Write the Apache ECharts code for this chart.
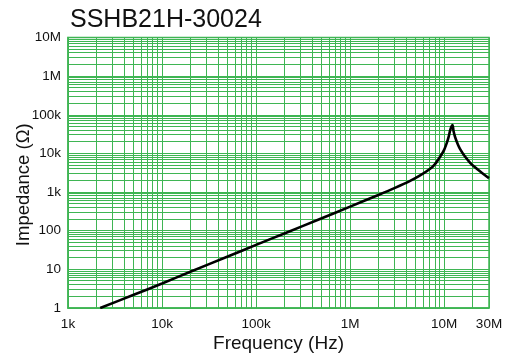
<!DOCTYPE html>
<html>
<head>
<meta charset="utf-8">
<script src="https://cdn.jsdelivr.net/npm/echarts@6/dist/echarts.min.js"></script>
<style>
  html, body { margin: 0; padding: 0; background: #fff; }
  #chart { width: 511px; height: 356px; }
</style>
</head>
<body>
<div id="chart"></div>
<script>
// Impedance vs frequency, SSHB21H-30024
const freqHz = [2.2e3, 5e3, 1e4, 2e4, 5e4, 1e5, 2e5, 5e5, 1e6, 2e6, 3e6, 4.35e6, 5.5e6,
  7.1e6, 8e6, 9.06e6, 1e7, 1.07e7, 1.12e7, 1.16e7, 1.2e7, 1.23e7, 1.26e7, 1.31e7, 1.4e7,
  1.48e7, 1.65e7, 1.89e7, 2.1e7, 2.42e7, 2.7e7, 3e7];
const impedanceOhm = [1, 2.2, 4.3, 8.7, 21.5, 43, 85, 210, 420, 840, 1280, 1940, 2650,
  4000, 5300, 8200, 12400, 19000, 27500, 40000, 50000, 54000, 37300, 26200, 17000,
  12900, 8540, 5730, 4500, 3390, 2770, 2300];

const xTickValues = [1e3, 1e4, 1e5, 1e6, 1e7, 3e7];
const xTickLabels = ['1k', '10k', '100k', '1M', '10M', '30M'];
const yTickValues = [1, 10, 100, 1e3, 1e4, 1e5, 1e6, 1e7];
const yTickLabels = ['1', '10', '100', '1k', '10k', '100k', '1M', '10M'];

const X_MIN = 1e3, X_MAX = 3e7, Y_MIN = 1, Y_MAX = 1e7;
const GRID = '#3fb553';
const FONT = '"Liberation Sans", Arial, Helvetica, sans-serif';

// minor grid positions at 2..9 of each decade
const minorX = [];
for (let d = 1e3; d < X_MAX; d *= 10) {
  for (let k = 2; k <= 9; k++) if (k * d < X_MAX) minorX.push([k * d]);
}
const minorY = [];
for (let d = 1; d < Y_MAX; d *= 10) {
  for (let k = 2; k <= 9; k++) minorY.push([k * d]);
}

// crisp 1px grid line between two points mapped by the axes
const crisp = v => Math.round(v - 0.5) + 0.5;
function minorGrid(vertical) {
  return {
    type: 'custom', silent: true, z: 1,
    data: vertical ? minorX : minorY,
    encode: vertical ? { x: 0 } : { y: 0 },
    renderItem: (params, api) => {
      const v = api.value(0);
      const a = vertical ? api.coord([v, Y_MIN]) : api.coord([X_MIN, v]);
      const b = vertical ? api.coord([v, Y_MAX]) : api.coord([X_MAX, v]);
      const shape = vertical
        ? { x1: crisp(a[0]), y1: a[1], x2: crisp(a[0]), y2: b[1] }
        : { x1: a[0], y1: crisp(a[1]), x2: b[0], y2: crisp(a[1]) };
      return { type: 'line', shape, style: { stroke: GRID, lineWidth: 1 } };
    }
  };
}

function labelFor(values, labels) {
  return v => {
    for (let i = 0; i < values.length; i++) {
      if (Math.abs(v - values[i]) / values[i] < 1e-6) return labels[i];
    }
    return '';
  };
}

const chart = echarts.init(document.getElementById('chart'), null, { renderer: 'canvas' });
chart.setOption({
  animation: false,
  backgroundColor: '#fff',
  tooltip: { show: false },
  title: {
    text: 'SSHB21H-30024',
    left: 65, top: 3,
    textStyle: { fontFamily: FONT, fontSize: 25, fontWeight: 'normal', color: '#111' }
  },
  grid: {
    left: 68, right: 22, top: 37.5, bottom: 48,
    outerBoundsMode: 'none', containLabel: false,
    show: true, borderColor: GRID, borderWidth: 1.5, backgroundColor: 'transparent'
  },
  xAxis: {
    type: 'log', logBase: 10, min: X_MIN, max: X_MAX,
    name: 'Frequency (Hz)', nameLocation: 'middle', nameGap: 26,
    nameMoveOverlap: false,
    nameTextStyle: { fontFamily: FONT, fontSize: 19, color: '#111' },
    axisLine: { show: true, lineStyle: { color: GRID, width: 1.5 } },
    axisTick: { show: false },
    axisLabel: {
      customValues: xTickValues,
      formatter: labelFor(xTickValues, xTickLabels),
      fontFamily: FONT, fontSize: 13.5, color: '#111', margin: 9
    },
    splitLine: { show: true, lineStyle: { color: GRID, width: 1 } }
  },
  yAxis: {
    type: 'log', logBase: 10, min: Y_MIN, max: Y_MAX,
    name: 'Impedance (Ω)', nameLocation: 'middle', nameGap: 35, nameRotate: 90,
    nameMoveOverlap: false,
    nameTextStyle: { fontFamily: FONT, fontSize: 18.5, color: '#111', padding: [0, 24, 0, 0] },
    axisLine: { show: true, lineStyle: { color: GRID, width: 1.5 } },
    axisTick: { show: false },
    axisLabel: {
      customValues: yTickValues,
      formatter: labelFor(yTickValues, yTickLabels),
      fontFamily: FONT, fontSize: 13.5, color: '#111', margin: 7
    },
    splitLine: { show: true, lineStyle: { color: GRID, width: 1 } }
  },
  series: [
    minorGrid(true),
    minorGrid(false),
    {
      type: 'line',
      data: freqHz.map((f, i) => [f, impedanceOhm[i]]),
      showSymbol: false, smooth: 0.25,
      lineStyle: { color: '#000', width: 2.6 },
      emphasis: { disabled: true },
      z: 5
    }
  ]
});
</script>
</body>
</html>
